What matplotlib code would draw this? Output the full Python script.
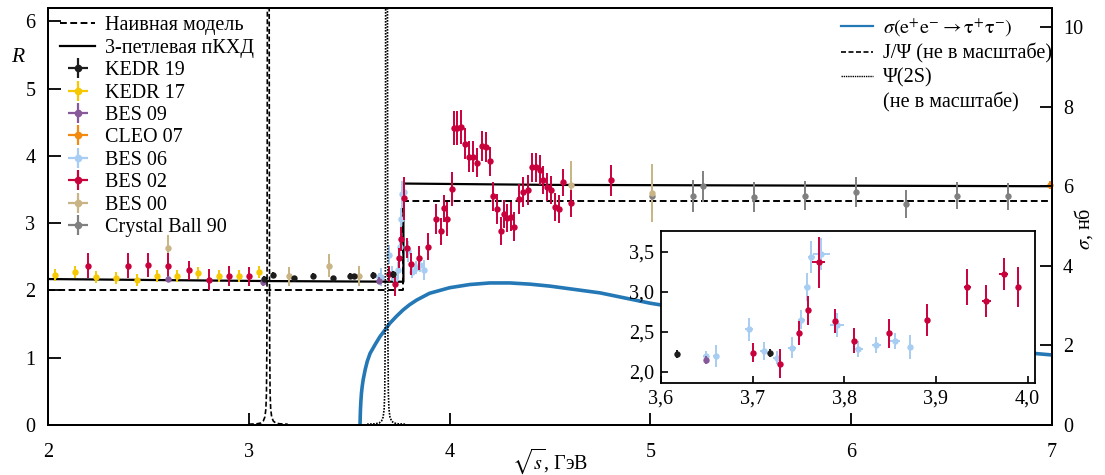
import matplotlib
matplotlib.use("Agg")
import matplotlib.pyplot as plt
from matplotlib.lines import Line2D
from matplotlib.legend_handler import HandlerTuple

plt.rcParams['font.family'] = ['Liberation Serif', 'DejaVu Serif']
plt.rcParams['mathtext.fontset'] = 'stix'

# ---------------- data ----------------
# model curves (R)
naive_E = [2.0, 3.77, 3.77, 7.0]
naive_R = [2.0, 2.0, 3.33, 3.33]
pqcd_E = [2.0, 3.1, 3.77, 3.77, 4.5, 7.0]
pqcd_R = [2.17, 2.14, 2.13, 3.59, 3.57, 3.55]

# sigma(e+e- -> tau+tau-), nb
sig_E = [3.554, 3.5545, 3.555, 3.556, 3.558, 3.561, 3.565, 3.570, 3.58, 3.59, 3.604, 3.63,
         3.653, 3.68, 3.703, 3.735, 3.768, 3.8, 3.836, 3.9, 4.0, 4.1, 4.2, 4.3, 4.4, 4.5,
         4.75, 5.0, 5.5, 6.0, 6.5, 7.0]
sig_nb = [0.0, 0.12, 0.22, 0.38, 0.58, 0.8, 0.98, 1.15, 1.40, 1.60, 1.80, 2.03, 2.22,
          2.40, 2.56, 2.73, 2.89, 3.02, 3.14, 3.31, 3.45, 3.53, 3.57, 3.57, 3.54, 3.49,
          3.32, 3.06, 2.65, 2.29, 1.98, 1.76]

# resonances (not to scale), nb
jpsi_E = [3.000, 3.040, 3.060, 3.072, 3.080, 3.085, 3.088, 3.090, 3.091, 3.092, 3.093,
          3.095, 3.097, 3.099, 3.101, 3.102, 3.103, 3.104, 3.106, 3.109, 3.114, 3.122,
          3.134, 3.154, 3.194]
jpsi_nb = [0.02, 0.03, 0.05, 0.1, 0.2, 0.4, 0.8, 2.0, 4.0, 8.0, 14.0, 25.0, 40.0, 25.0,
           14.0, 8.0, 4.0, 2.0, 0.8, 0.4, 0.2, 0.1, 0.05, 0.03, 0.02]
psi2s_E = [3.589, 3.629, 3.649, 3.661, 3.669, 3.674, 3.677, 3.679, 3.680, 3.681, 3.682,
           3.684, 3.686, 3.688, 3.690, 3.691, 3.692, 3.693, 3.695, 3.698, 3.703, 3.711,
           3.723, 3.743, 3.783]
psi2s_nb = [0.02, 0.03, 0.05, 0.1, 0.2, 0.4, 0.8, 2.0, 4.0, 8.0, 14.0, 25.0, 40.0, 25.0,
            14.0, 8.0, 4.0, 2.0, 0.8, 0.4, 0.2, 0.1, 0.05, 0.03, 0.02]

# experiments: energy (GeV), R, dR, dE
kedr19_E = [3.076, 3.12, 3.227, 3.318, 3.42, 3.504, 3.524, 3.618, 3.719]
kedr19_R = [2.17, 2.23, 2.18, 2.22, 2.18, 2.22, 2.21, 2.225, 2.24]
kedr19_dR = [0.05, 0.05, 0.04, 0.04, 0.04, 0.04, 0.04, 0.05, 0.05]

kedr17_E = [2.035, 2.134, 2.239, 2.339, 2.443, 2.541, 2.642, 2.745, 2.852, 2.95, 3.049]
kedr17_R = [2.23, 2.27, 2.20, 2.18, 2.16, 2.21, 2.22, 2.26, 2.21, 2.22, 2.27]
kedr17_dR = [0.09, 0.09, 0.09, 0.09, 0.09, 0.09, 0.09, 0.09, 0.09, 0.09, 0.09]

bes09_E = [2.6, 3.07, 3.649]
bes09_R = [2.17, 2.12, 2.146]
bes09_dR = [0.05, 0.05, 0.05]

cleo07_E = [6.99]
cleo07_R = [3.57]
cleo07_dR = [0.06]

bes06_E = [3.649, 3.66, 3.696, 3.712, 3.726, 3.743, 3.753, 3.759, 3.764, 3.775, 3.792,
           3.815, 3.835, 3.855, 3.872]
bes06_R = [2.20, 2.20, 2.53, 2.26, 2.175, 2.30, 2.65, 3.06, 3.43, 3.47, 2.58, 2.28,
           2.34, 2.38, 2.31]
bes06_dR = [0.06, 0.14, 0.14, 0.11, 0.08, 0.13, 0.12, 0.17, 0.20, 0.20, 0.15, 0.10,
            0.10, 0.10, 0.15]
bes06_dE = [0.003, 0.003, 0.004, 0.004, 0.004, 0.004, 0.004, 0.003, 0.004, 0.009, 0.008,
            0.005, 0.005, 0.006, 0.003]

bes02_E = [2.2, 2.4, 2.5, 2.6, 2.7, 2.8, 2.9, 3.0,
           3.70, 3.73, 3.75, 3.76, 3.772, 3.79, 3.81, 3.849, 3.89, 3.934, 3.955, 3.974, 3.989,
           4.013, 4.023, 4.035, 4.058, 4.078, 4.098, 4.118, 4.138, 4.16, 4.18, 4.20, 4.218,
           4.238, 4.256, 4.271, 4.284, 4.304, 4.322, 4.347, 4.364, 4.389, 4.409, 4.429,
           4.449, 4.463, 4.483, 4.503, 4.523, 4.546, 4.563, 4.603, 4.804]
bes02_R = [2.37, 2.37, 2.38, 2.37, 2.30, 2.16, 2.22, 2.21,
           2.24, 2.10, 2.48, 2.77, 3.37, 2.63, 2.39, 2.48, 2.65, 3.06, 2.88, 3.22, 3.06,
           3.51, 4.42, 4.42, 4.43, 4.18, 3.99, 3.99, 3.90, 4.15, 4.13, 3.92, 3.40,
           3.21, 2.88, 3.14, 3.08, 3.10, 2.95, 3.36, 3.46, 3.49, 3.83, 3.83,
           3.79, 3.64, 3.54, 3.49, 3.24, 3.21, 3.61, 3.30, 3.64]
bes02_dR = [0.18, 0.18, 0.18, 0.18, 0.14, 0.16, 0.15, 0.14,
            0.12, 0.18, 0.15, 0.18, 0.32, 0.15, 0.16, 0.18, 0.20, 0.22, 0.20, 0.20, 0.25,
            0.25, 0.25, 0.25, 0.25, 0.23, 0.23, 0.23, 0.22, 0.22, 0.22, 0.22, 0.22,
            0.22, 0.21, 0.21, 0.21, 0.21, 0.21, 0.22, 0.22, 0.22, 0.22, 0.22,
            0.22, 0.21, 0.21, 0.21, 0.21, 0.21, 0.20, 0.20, 0.23]
bes02_dE = [0.0] * 12 + [0.007] + [0.0] * 4 + [0.004, 0.005, 0.005, 0.0] + [0.0] * 32

bes00_E = [2.6, 3.2, 3.4, 3.55, 4.603, 5.01]
bes00_R = [2.63, 2.21, 2.37, 2.22, 3.57, 3.45]
bes00_dR = [0.19, 0.14, 0.17, 0.15, 0.35, 0.43]

cb90_E = [5.01, 5.212, 5.262, 5.516, 5.769, 6.022, 6.275, 6.528, 6.78]
cb90_R = [3.40, 3.41, 3.55, 3.39, 3.41, 3.46, 3.29, 3.41, 3.40]
cb90_dR = [0.24, 0.24, 0.23, 0.22, 0.22, 0.22, 0.21, 0.20, 0.20]

# ---------------- styles ----------------
C_K19 = '#1c1c1c'
C_K17 = '#f5c800'
C_B09 = '#87589a'
C_CLEO = '#f28a10'
C_B06 = '#a8cdf2'
C_B02 = '#c8003c'
C_B00 = '#c8b484'
C_CB = '#808080'
C_SIG = '#2378b5'

FS_TICK = 14.5
FS_LEG = 14.5

fig = plt.figure(figsize=(11.05, 4.75), dpi=100)
ax = fig.add_axes([48 / 1105, 50 / 475, 1004 / 1105, 417 / 475])
ax2 = ax.twinx()

ax.set_xlim(2, 7)
ax.set_ylim(0, 6.2)
ax2.set_ylim(0, 10.48)

dash_naive = (0, (3.5, 1.8))
ax.plot(naive_E, naive_R, color='black', lw=1.4, ls=dash_naive, zorder=2)
ax.plot(pqcd_E, pqcd_R, color='black', lw=1.6, zorder=2)

ax2.plot(sig_E, sig_nb, color=C_SIG, lw=2.6, zorder=2)
ax2.plot(jpsi_E, jpsi_nb, color='black', lw=1.2, ls=(0, (3, 1.5)), zorder=2)
ax2.plot(psi2s_E, psi2s_nb, color='black', lw=1.2, ls=(0, (1, 0.8)), zorder=2)

eb_kw = dict(fmt='o', ms=4.6, capsize=0, elinewidth=1.4, mew=0)


def draw_points(a, z0=3):
    a.errorbar(cb90_E, cb90_R, yerr=cb90_dR, color=C_CB, zorder=z0, **eb_kw)
    a.errorbar(bes00_E, bes00_R, yerr=bes00_dR, color=C_B00, zorder=z0, **eb_kw)
    a.errorbar(bes06_E, bes06_R, yerr=bes06_dR, xerr=bes06_dE, color=C_B06, zorder=z0 + 1, **eb_kw)
    a.errorbar(bes02_E, bes02_R, yerr=bes02_dR, xerr=bes02_dE, color=C_B02, zorder=z0 + 2, **eb_kw)
    a.errorbar(cleo07_E, cleo07_R, yerr=cleo07_dR, color=C_CLEO, zorder=z0 + 3, clip_on=False, **eb_kw)
    a.errorbar(bes09_E, bes09_R, yerr=bes09_dR, color=C_B09, zorder=z0 + 3, **eb_kw)
    a.errorbar(kedr17_E, kedr17_R, yerr=kedr17_dR, color=C_K17, zorder=z0 + 3, **eb_kw)
    a.errorbar(kedr19_E, kedr19_R, yerr=kedr19_dR, color=C_K19, zorder=z0 + 4, **eb_kw)


draw_points(ax)

# ticks main
ax.set_xticks([2, 3, 4, 5, 6, 7])
ax.set_yticks([0, 1, 2, 3, 4, 5, 6])
ax2.set_yticks([0, 2, 4, 6, 8, 10])
ax.tick_params(axis='x', direction='in', length=9, width=1.3, labelsize=FS_TICK, pad=13, top=False)
ax.tick_params(axis='y', direction='in', length=9, width=1.3, labelsize=FS_TICK, pad=9, right=False)
ax2.tick_params(axis='y', direction='in', length=9, width=1.3, labelsize=FS_TICK, pad=8)
for a in (ax, ax2):
    for s in a.spines.values():
        s.set_linewidth(1.4)

ax.set_xlabel(r'$\sqrt{s}$, ГэВ', fontsize=FS_TICK)
ax.xaxis.set_label_coords(0.5, -0.052)
ax2.set_ylabel(r'$\sigma$, нб', fontsize=FS_TICK, rotation=90, va='center')
ax2.yaxis.set_label_coords(1.031, 0.47)
fig.text(18 / 1105, 1 - 57 / 475, 'R', style='italic', fontsize=15.5, ha='center', va='center')

# legends
def eb_handle(c):
    return (Line2D([], [], marker='+', ms=15, mew=1.6, ls='none', color=c),
            Line2D([], [], marker='o', ms=5.5, mew=0, ls='none', color=c))


h_left = [Line2D([], [], color='black', lw=1.4, ls=dash_naive),
          Line2D([], [], color='black', lw=1.6),
          eb_handle(C_K19), eb_handle(C_K17), eb_handle(C_B09), eb_handle(C_CLEO),
          eb_handle(C_B06), eb_handle(C_B02), eb_handle(C_B00), eb_handle(C_CB)]
l_left = ['Наивная модель', '3-петлевая пКХД', 'KEDR 19', 'KEDR 17', 'BES 09', 'CLEO 07',
          'BES 06', 'BES 02', 'BES 00', 'Crystal Ball 90']
leg1 = ax.legend(h_left, l_left, loc='upper left', bbox_to_anchor=(0.008, 0.99),
                 frameon=False, fontsize=FS_LEG, handlelength=1.75, handletextpad=0.5,
                 labelspacing=0.165, borderpad=0.2, borderaxespad=0,
                 handler_map={tuple: HandlerTuple(ndivide=1, pad=0)})

h_right = [Line2D([], [], color=C_SIG, lw=1.6),
           Line2D([], [], color='black', lw=1.2, ls=(0, (3, 1.5))),
           Line2D([], [], color='black', lw=1.0, ls=(0, (1, 0.6))),
           Line2D([], [], color='none', lw=0)]
l_right = [r'$\sigma(\mathrm{e^{+}e^{-}} \rightarrow \mathrm{\tau^{+}\tau^{-}})$',
           'J/Ψ (не в масштабе)', 'Ψ(2S)', '(не в масштабе)']
leg2 = ax2.legend(h_right, l_right, loc='upper right', bbox_to_anchor=(1.004, 0.99),
                  frameon=False, fontsize=FS_LEG, handlelength=1.6, handletextpad=0.5,
                  labelspacing=0.24, borderpad=0.2, borderaxespad=0)

# inset
axi = fig.add_axes([661 / 1105, 92 / 475, 374 / 1105, 152 / 475], zorder=10)
axi.set_facecolor('white')
draw_points(axi)
axi.set_xlim(3.6, 4.008)
axi.set_ylim(1.86, 3.76)
axi.set_xticks([3.6, 3.7, 3.8, 3.9, 4.0])
axi.set_xticklabels(['3,6', '3,7', '3,8', '3,9', '4,0'])
axi.set_yticks([2.0, 2.5, 3.0, 3.5])
axi.set_yticklabels(['2,0', '2,5', '3,0', '3,5'])
axi.tick_params(direction='in', length=5, width=1.2, labelsize=14.5, pad=5)
for s in axi.spines.values():
    s.set_linewidth(1.3)

fig.savefig('out.png', dpi=100)
